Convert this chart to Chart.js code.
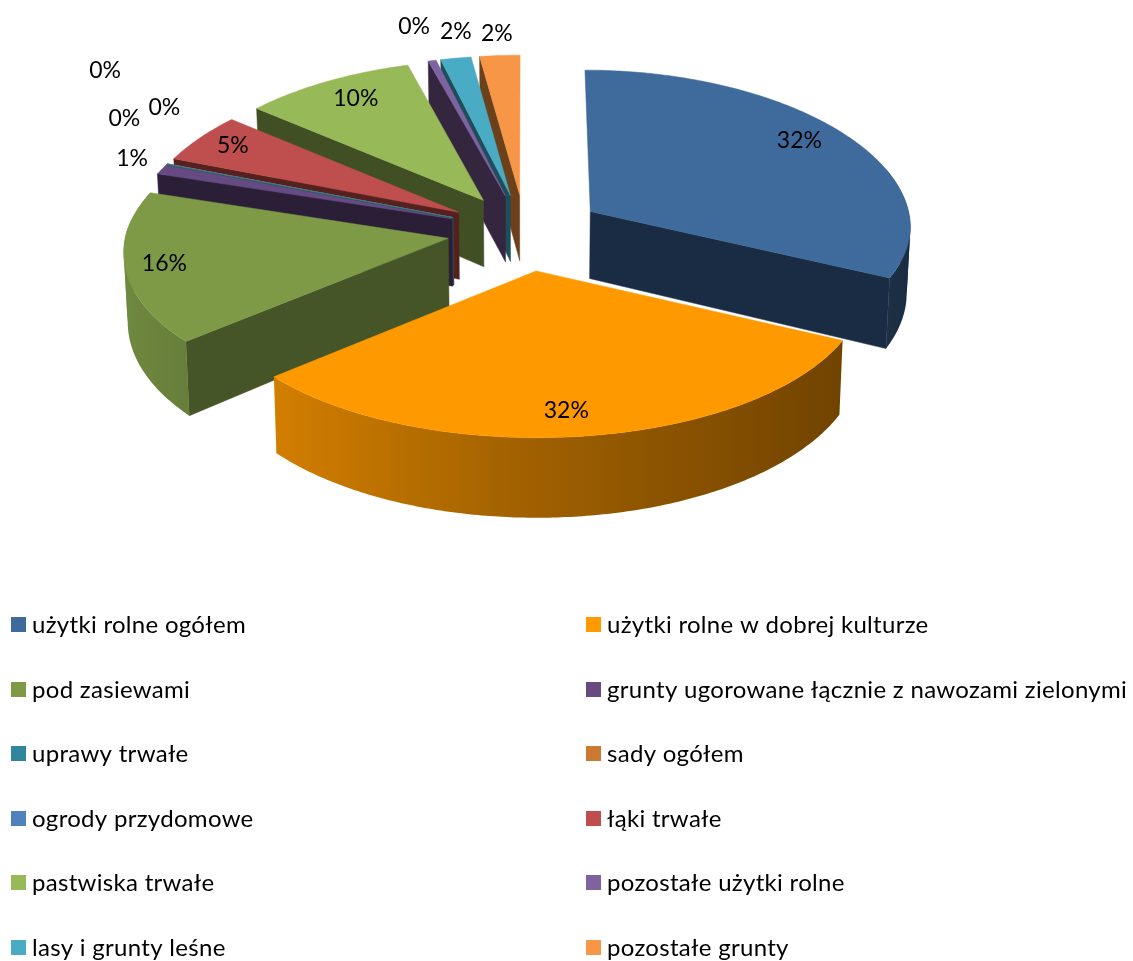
<!DOCTYPE html>
<html><head><meta charset="utf-8">
<style>html,body{margin:0;padding:0;background:#fff;overflow:hidden}#box{position:absolute;left:0;top:0;width:1133px;height:961px}</style>
<script src="https://cdn.jsdelivr.net/npm/chart.js@4/dist/chart.umd.min.js"></script>
</head><body><div id="box"><canvas id="c" width="1133" height="961"></canvas></div>
<script>
const categories = ['użytki rolne ogółem','użytki rolne w dobrej kulturze','pod zasiewami','grunty ugorowane łącznie z nawozami zielonymi','uprawy trwałe','sady ogółem','ogrody przydomowe','łąki trwałe','pastwiska trwałe','pozostałe użytki rolne','lasy i grunty leśne','pozostałe grunty'];
const shares = [32.4,31.9,16.3,1.0,0.02,0.02,0.02,5.2,9.6,0.45,1.7,2.25];
const topColors = ['#3F6A9C','#FF9900','#7E9A47','#664A82','#31859C','#CC7A32','#4F81BD','#BE4F4E','#98B958','#7F63A1','#4AABC5','#F79646'];
const wallColors = ['#1A2C44','#FF9900','#465527','#2B1F38','#1F4E5B','#6B401B','#1F3A5B','#55211F','#414F24','#35263F','#1F4E5B','#6B401B'];
const sliceOffsets = [78,84,78,78,78,78,78,78,78,78,78,78];
const labelAngles = [55.4,173.9,259.3,291.2,300.3,305.4,308.2,301.5,328.5,345.1,350.4,356];
const labelRadii = [1.093,1.107,1.122,1.367,1.542,1.48,1.828,1.12,1.09,1.517,1.454,1.415];
const LABEL_FONT = '23px Lato, Carlito, sans-serif';
const LEGEND_FONT = '24px Lato, Carlito, sans-serif';

const TILT=0.472, PERSP_BACK=0.09, PERSP_FRONT=0.075, PERSP_Y=0.059, DEPTH=68, DEPTH_P=0.12, BOTTOM_X=0.99;
function top3d(arc,X,Y,R){const v=Y/R,kx=v<0?PERSP_BACK:PERSP_FRONT;return [arc.x+X/(1-kx*v),arc.y+Y*TILT/(1-PERSP_Y*v)];}
function bot3d(arc,X,Y,R){const p=top3d(arc,X,Y,R);const v=Y/R;return [arc.x+(p[0]-arc.x)*BOTTOM_X,p[1]+DEPTH/(1-DEPTH_P*v)];}
function shade(hex,f){const n=parseInt(hex.slice(1),16);return `rgb(${Math.round((n>>16)*f)},${Math.round(((n>>8)&255)*f)},${Math.round((n&255)*f)})`;}
function wallShade(a){const c=Math.cos(a);return 0.62-(c>0?0.2:0.27)*c;}

const pie3d={id:'pie3d',
 beforeDatasetsDraw(chart){
  const ctx=chart.ctx, meta=chart.getDatasetMeta(0);
  const items=meta.data.map((arc,i)=>{
    const offset=arc.options.offset, mid=(arc.startAngle+arc.endAngle)/2;
    return {arc,i,ox:Math.cos(mid)*offset,oy:Math.sin(mid)*offset,mid};
  }).sort((a,b)=>Math.sin(a.mid)-Math.sin(b.mid));
  const fill=(pts,col,stroke)=>{ctx.beginPath();pts.forEach((p,j)=>j?ctx.lineTo(p[0],p[1]):ctx.moveTo(p[0],p[1]));ctx.closePath();ctx.fillStyle=col;ctx.fill();if(stroke){ctx.strokeStyle=stroke;ctx.lineWidth=0.5;ctx.stroke();}};
  for(const it of items){
    const {arc,i,ox,oy}=it, R=arc.outerRadius, a0=arc.startAngle, a1=arc.endAngle;
    const T=(a)=>top3d(arc,ox+Math.cos(a)*R,oy+Math.sin(a)*R,R), B=(a)=>bot3d(arc,ox+Math.cos(a)*R,oy+Math.sin(a)*R,R);
    const AT=top3d(arc,ox,oy,R), AB=bot3d(arc,ox,oy,R);
    // radial cut walls that face the viewer
    if(-Math.cos(a0)>0) fill([AT,T(a0),B(a0),AB],wallColors[i],wallColors[i]);
    if(Math.cos(a1)>0) fill([AT,T(a1),B(a1),AB],wallColors[i],wallColors[i]);
    // outer wall with a left-to-right gradient, split at the silhouette so the sweep never folds over itself
    const steps=Math.max(2,Math.ceil((a1-a0)/0.012));
    const vis=[];
    for(let s=0;s<=steps;s++){const a=a0+(a1-a0)*s/steps;if(Math.sin(a)>=-0.3) vis.push(a);}
    if(vis.length>1){
      const up=vis.map(T), dn=vis.map(B);
      const xs=up.map(p=>p[0]), x0=Math.min(...xs), x1=Math.max(...xs);
      const g=ctx.createLinearGradient(x0,0,x1,0);
      const front=vis.filter(a=>Math.sin(a)>=0), nStops=8;
      for(let s=0;s<=nStops&&front.length;s++){
        const a=front[Math.round((front.length-1)*s/nStops)];
        g.addColorStop(Math.min(1,Math.max(0,(T(a)[0]-x0)/((x1-x0)||1))),shade(topColors[i],wallShade(a)));
      }
      let e=0;xs.forEach((x,j)=>{if(Math.abs(x-arc.x)>Math.abs(xs[e]-arc.x))e=j;});
      fill(up.slice(0,e+1).concat(dn.slice(0,e+1).reverse()),g);
      fill(up.slice(e).concat(dn.slice(e).reverse()),g);
    }
    // top face
    const pts=[AT];
    for(let s=0;s<=steps;s++) pts.push(T(a0+(a1-a0)*s/steps));
    fill(pts,arc.options.backgroundColor,arc.options.backgroundColor);
  }
  return false;
 },
 afterDraw(chart){
  const ctx=chart.ctx, meta=chart.getDatasetMeta(0), total=shares.reduce((a,b)=>a+b,0);
  ctx.save();ctx.font=LABEL_FONT;ctx.fillStyle='#000';ctx.textAlign='center';ctx.textBaseline='middle';
  meta.data.forEach((arc,i)=>{
    const a=(labelAngles[i]-90)*Math.PI/180,R=arc.outerRadius,r=labelRadii[i]*R;
    const p=top3d(arc,Math.cos(a)*r,Math.sin(a)*r,R);
    ctx.fillText(Math.round(shares[i]/total*100)+'%',p[0],p[1]+1);
  });
  // two-column legend
  const items=chart.options.plugins.legend.labels.generateLabels(chart);
  const rows=[625,690,754,819,883,948], cols=[[11,32],[586,607]];
  ctx.textAlign='left';ctx.font=LEGEND_FONT;ctx.letterSpacing='0.3px';
  items.forEach((it,i)=>{
    const c=cols[i%2], y=rows[Math.floor(i/2)];
    ctx.fillStyle=it.fillStyle;ctx.fillRect(c[0],y-8,15,15);
    ctx.fillStyle='#000';ctx.fillText(it.text,c[1],y);
  });
  ctx.restore();
 }};

new Chart(document.getElementById('c'),{
  type:'pie',
  data:{labels:categories,datasets:[{data:shares,backgroundColor:topColors,offset:sliceOffsets,borderWidth:0}]},
  options:{responsive:false,animation:false,radius:322,
    layout:{padding:{left:0,right:83,top:0,bottom:499}},
    plugins:{legend:{display:false},tooltip:{enabled:false}}},
  plugins:[pie3d]
});
</script></body></html>
